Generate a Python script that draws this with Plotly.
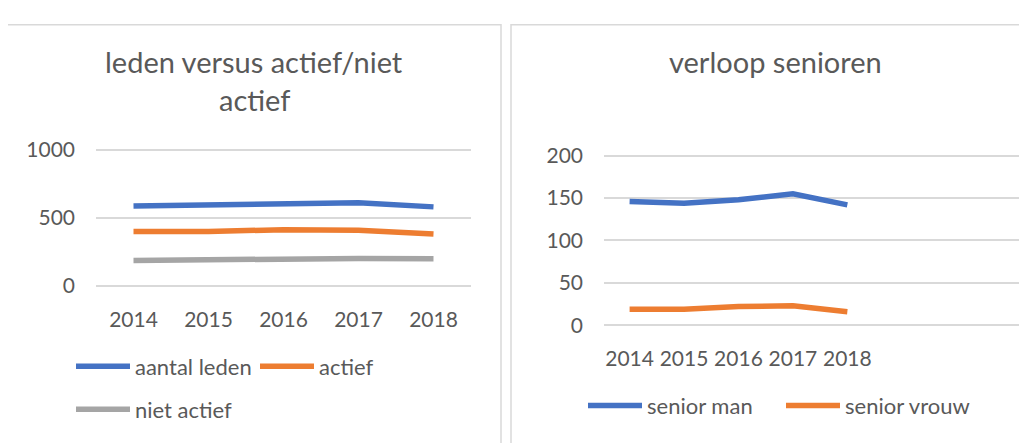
import plotly.graph_objects as go

# the page body keeps its 8px margin, so the figure sits 8px in from the window corner;
# layout below is worked out in window pixels and shifted by OFF
WIN_W, WIN_H = 1027, 443
OFF = 8
W, H = WIN_W - OFF, WIN_H - OFF

# data
years = ["2014", "2015", "2016", "2017", "2018"]
aantal_leden = [587, 594, 606, 610, 580]
actief = [400, 400, 412, 409, 381]
niet_actief = [187, 194, 196, 201, 199]
senior_man = [146, 144, 148, 155, 142]
senior_vrouw = [19, 19, 22, 23, 16]

blue, orange, grey = "#4472C4", "#ED7D31", "#A5A5A5"
text_c = "#595959"
grid_c = "#D9D9D9"
FONT = "Lato"
LW = 5.5


def px(x):
    return (x - OFF) / W


def py(y):
    return 1 - (y - OFF) / H


left = [("aantal leden", aantal_leden, blue),
        ("actief", actief, orange),
        ("niet actief", niet_actief, grey)]
right = [("senior man", senior_man, blue),
         ("senior vrouw", senior_vrouw, orange)]

fig = go.Figure()
for name, vals, col in left:
    fig.add_trace(go.Scatter(x=years, y=vals, name=name, mode="lines",
                             line=dict(color=col, width=LW),
                             xaxis="x", yaxis="y", showlegend=False))
for name, vals, col in right:
    fig.add_trace(go.Scatter(x=years, y=vals, name=name, mode="lines",
                             line=dict(color=col, width=LW),
                             xaxis="x2", yaxis="y2", showlegend=False))

tickfont = dict(size=21, color=text_c, family=FONT)
xcommon = dict(type="category", showgrid=False, zeroline=False, showline=False,
               ticks="", ticklabelstandoff=16, tickfont=tickfont)
ycommon = dict(tick0=0, showgrid=True, gridcolor=grid_c, gridwidth=1.5,
               zeroline=False, showline=False, ticks="",
               ticklabelstandoff=20, tickfont=tickfont)

fig.update_layout(
    width=W, height=H,
    margin=dict(l=0, r=0, t=0, b=0),
    paper_bgcolor="white", plot_bgcolor="white",
    showlegend=False,
    xaxis=dict(xcommon, domain=[px(96), px(471)], anchor="y", range=[-0.5, 4.5]),
    yaxis=dict(ycommon, domain=[py(290.6), py(142.1)], anchor="x",
               range=[-20, 1020], dtick=500),
    xaxis2=dict(xcommon, domain=[px(604), 1.0], anchor="y2", range=[-0.47, 7.3]),
    yaxis2=dict(ycommon, domain=[py(331.7), py(148.6)], anchor="x2",
                range=[-3, 203], dtick=50),
)

# chart frames
for x0, x1 in [(7, 501), (511, 1045)]:
    fig.add_shape(type="rect", xref="paper", yref="paper",
                  x0=px(x0), x1=px(x1), y0=py(14), y1=py(470),
                  line=dict(color=grid_c, width=1.5), fillcolor="rgba(0,0,0,0)",
                  layer="below")

# titles (Excel wraps the left one onto two lines)
titles = [("leden versus actief/niet", 254, 53),
          ("actief", 254, 92),
          ("verloop senioren", 775, 53)]
for txt, tx, ty in titles:
    fig.add_annotation(text=txt, xref="paper", yref="paper",
                       x=px(tx), y=py(ty), xanchor="center", yanchor="middle",
                       showarrow=False,
                       font=dict(size=29, color=text_c, family=FONT))

# legends, drawn by hand so the key lines get Excel's length
legend_pos = [(76, 372), (260, 372), (76, 417), (588, 413), (786, 413)]
for (name, vals, col), (lx, ly) in zip(left + right, legend_pos):
    fig.add_shape(type="line", xref="paper", yref="paper",
                  x0=px(lx), x1=px(lx + 54), y0=py(ly), y1=py(ly),
                  line=dict(color=col, width=LW))
    fig.add_annotation(text=name, xref="paper", yref="paper",
                       x=px(lx + 57), y=py(ly), xanchor="left", yanchor="middle",
                       showarrow=False, font=dict(size=22, color=text_c, family=FONT))

fig.write_html("out.html")
